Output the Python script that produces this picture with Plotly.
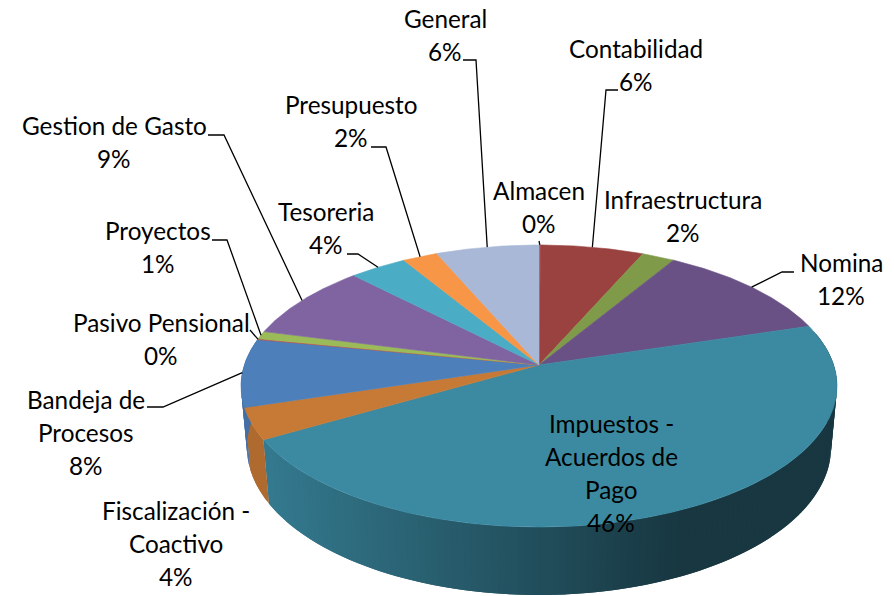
import math
import plotly.graph_objects as go

# ---- data ----
categories = ["Almacen", "Contabilidad", "Infraestructura", "Nomina",
              "Impuestos - Acuerdos de Pago", "Fiscalización - Coactivo",
              "Bandeja de Procesos", "Pasivo Pensional", "Proyectos",
              "Gestion de Gasto", "Tesoreria", "Presupuesto", "General"]
shares = [0.1, 6.45, 2.05, 11.65, 46.35, 3.6, 7.8, 0.1, 0.9, 8.7, 3.6, 2.2, 6.45]
colors = ["#BE4B48", "#994240", "#7F9A48", "#695185", "#3B8AA2", "#C77A35",
          "#4D7FBA", "#BE4B48", "#9BBB59", "#8064A2", "#4BACC6", "#F79646", "#A9B8D6"]
label_lines = [["Almacen"], ["Contabilidad"], ["Infraestructura"], ["Nomina"],
               ["Impuestos -", "Acuerdos de", "Pago"], ["Fiscalización -", "Coactivo"],
               ["Bandeja de", "Procesos"], ["Pasivo Pensional"], ["Proyectos"],
               ["Gestion de Gasto"], ["Tesoreria"], ["Presupuesto"], ["General"]]
label_x = [539, 636, 683, 841, 611, 176, 86, 161, 158, 114, 326, 351, 445]
label_y = [190, 48, 199, 262, 423, 510, 399, 322, 230, 125, 211, 104, 18]
line_step = 33.2

# leader elbows (label side) per category index
leaders = {
    0: [(539, 241)],
    1: [(618, 90), (606, 90)],
    3: [(794, 272), (782, 272)],
    6: [(147, 407), (163, 407)],
    7: [(250, 330)],
    8: [(212, 240), (227, 240)],
    9: [(208, 135), (224, 135)],
    10: [(347, 254), (358, 254)],
    11: [(371, 147), (386, 147)],
    12: [(463, 60), (476, 60)],
}

# ---- projection of the disc ----
CX, CY, A, B, P = 539.0, 365.0, 137.9, 294.7, 0.149


def top(theta):
    X, Y = math.sin(theta), math.cos(theta)
    d = 1 + P * Y
    return CX + B * X / d, CY - A * Y / d


def bottom(theta):
    x, y = top(theta)
    return CX + 0.98 * (x - CX), 1.047 * y + 43.2


def shade(col, x):
    t = min(max((x - 265) / 415, 0), 1)
    k = 0.88 - 0.48 * t
    r, g, b = (int(col[i:i + 2], 16) for i in (1, 3, 5))
    return f"rgb({r * k:.0f},{g * k:.0f},{b * k:.0f})"


total = sum(shares)
edges = [0.0]
for s in shares:
    edges.append(edges[-1] + s / total * 2 * math.pi)

fig = go.Figure()


def poly(xs, ys, col, width=0.6):
    fig.add_trace(go.Scatter(x=xs, y=ys, mode="lines", fill="toself", fillcolor=col,
                             line=dict(color=col, width=width), hoverinfo="skip",
                             showlegend=False))


# outer wall, split in strips that overlap the next one so no seams show
strip = 0.02
for i, s in enumerate(shares):
    a0, a1 = edges[i], edges[i + 1]
    n = max(1, int((a1 - a0) / strip))
    for j in range(n):
        t0 = a0 + (a1 - a0) * j / n
        t1 = a0 + (a1 - a0) * (j + 1) / n
        if math.cos((t0 + t1) / 2) > 0.25:
            continue
        t2 = min(t1 + strip, a1) if j < n - 1 else t1
        ts = [t0, t1, t2]
        upper = [top(t) for t in ts]
        lower = [bottom(t) for t in reversed(ts)]
        pts = upper + lower + [upper[0]]
        poly([p[0] for p in pts], [p[1] for p in pts],
             shade(colors[i], (upper[0][0] + upper[1][0]) / 2), width=0)

# top face
for i, s in enumerate(shares):
    a0, a1 = edges[i], edges[i + 1]
    n = max(2, int((a1 - a0) / 0.01))
    pts = [top(a0 + (a1 - a0) * j / n) for j in range(n + 1)]
    poly([CX] + [p[0] for p in pts] + [CX], [CY] + [p[1] for p in pts] + [CY], colors[i])

# leader lines end on the rim at each slice's middle
for i, elbow in leaders.items():
    end = top((edges[i] + edges[i + 1]) / 2)
    fig.add_trace(go.Scatter(x=[p[0] for p in elbow] + [end[0]], y=[p[1] for p in elbow] + [end[1]],
                             mode="lines", line=dict(color="black", width=1.3),
                             hoverinfo="skip", showlegend=False))

# labels
for i, lines in enumerate(label_lines):
    rows = lines + [f"{round(shares[i] / total * 100)}%"]
    for k, txt in enumerate(rows):
        fig.add_annotation(x=label_x[i], y=label_y[i] + k * line_step, text=txt,
                           showarrow=False, xref="x", yref="y", xanchor="center", yanchor="middle",
                           font=dict(family="Lato", size=24.3, color="black"))

fig.update_layout(width=894, height=596, margin=dict(l=0, r=0, t=0, b=0),
                  paper_bgcolor="white", plot_bgcolor="white", showlegend=False,
                  xaxis=dict(range=[0, 894], visible=False, fixedrange=True),
                  yaxis=dict(range=[596, 0], visible=False, fixedrange=True))
fig.write_html("out.html", config={"displayModeBar": False},
               post_script="document.body.style.margin='0';document.documentElement.style.overflow='hidden';")
